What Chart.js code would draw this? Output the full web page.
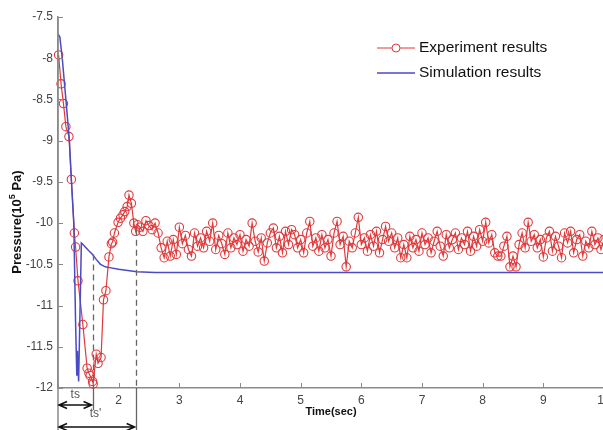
<!DOCTYPE html>
<html>
<head>
<meta charset="utf-8">
<script src="https://cdn.jsdelivr.net/npm/chart.js@4.4.1/dist/chart.umd.min.js"></script>
<style>
html,body{margin:0;padding:0;overflow:hidden;background:#fff;}
#wrap{width:620px;height:430px;position:relative;}
</style>
</head>
<body>
<div id="wrap"><canvas id="c" width="620" height="430"></canvas></div>
<script>
// ---- data ----
const xTicks = [1,2,3,4,5,6,7,8,9,10];
const yTicks = [-12,-11.5,-11,-10.5,-10,-9.5,-9,-8.5,-8,-7.5];

const expTime = [
 1.01,1.05,1.09,1.13,1.18,1.22,1.27,1.29,1.33,1.41,
 1.48,1.51,1.53,1.57,1.58,1.63,1.66,1.71,1.75,1.79,
 1.84,1.88,1.90,1.93,1.99,2.03,2.07,2.10,2.14,2.17,
 2.21,2.25,2.28,2.31,
 2.35,2.40,2.45,2.50,2.55,2.60,2.65,2.70,2.75,2.80,
 2.85,2.90,2.95,3.00,3.05,3.10,3.15,3.20,3.25,3.30,
 3.35,3.40,3.45,3.50,3.55,3.60,3.65,3.70,3.75,3.80,
 3.85,3.90,3.95,4.00,4.05,4.10,4.15,4.20,4.25,4.30,
 4.35,4.40,4.45,4.50,4.55,4.60,4.65,4.70,4.75,4.80,
 4.85,4.90,4.95,5.00,5.05,5.10,5.15,5.20,5.25,5.30,
 5.35,5.40,5.45,5.50,5.55,5.60,5.65,5.70,5.75,5.80,
 5.85,5.90,5.95,6.00,6.05,6.10,6.15,6.20,6.25,6.30,
 6.35,6.40,6.45,6.50,6.55,6.60,6.65,6.70,6.75,6.80,
 6.85,6.90,6.95,7.00,7.05,7.10,7.15,7.20,7.25,7.30,
 7.35,7.40,7.45,7.50,7.55,7.60,7.65,7.70,7.75,7.80,
 7.85,7.90,7.95,8.00,8.05,8.10,8.15,8.20,8.25,8.30,
 8.35,8.40,8.45,8.50,8.55,8.60,8.65,8.70,8.75,8.80,
 8.85,8.90,8.95,9.00,9.05,9.10,9.15,9.20,9.25,9.30,
 9.35,9.40,9.45,9.50,9.55,9.60,9.65,9.70,9.75,9.80,
 9.85,9.90,9.95,10.00
];
const expPressure = [
 -7.96,-8.31,-8.55,-8.83,-8.95,-9.47,-10.12,-10.29,-10.70,-11.23,
 -11.76,-11.82,-11.85,-11.92,-11.95,-11.59,-11.70,-11.63,-10.93,-10.82,
 -10.41,-10.25,-10.23,-10.12,-9.99,-9.94,-9.90,-9.86,-9.80,-9.66,
 -9.76,-10.00,-10.10,-10.02,
 -10.05,-10.10,-9.97,-10.03,-10.08,-10.00,-10.12,-10.30,-10.42,-10.22,
 -10.40,-10.20,-10.38,-10.05,-10.25,-10.15,-10.32,-10.40,-10.12,-10.28,
 -10.18,-10.30,-10.10,-10.22,-10.00,-10.32,-10.15,-10.25,-10.38,-10.12,
 -10.30,-10.18,-10.26,-10.14,-10.34,-10.20,-10.28,-10.00,-10.22,-10.35,
 -10.18,-10.46,-10.24,-10.12,-10.06,-10.30,-10.16,-10.36,-10.10,-10.26,
 -10.08,-10.14,-10.30,-10.20,-10.36,-10.12,-9.98,-10.28,-10.18,-10.34,
 -10.14,-10.30,-10.20,-10.40,-10.12,-9.98,-10.26,-10.16,-10.53,-10.22,
 -10.30,-10.12,-9.93,-10.26,-10.18,-10.34,-10.14,-10.28,-10.10,-10.36,
 -10.20,-10.04,-10.22,-10.12,-10.30,-10.18,-10.42,-10.26,-10.42,-10.16,
 -10.30,-10.20,-10.34,-10.12,-10.26,-10.18,-10.36,-10.22,-10.10,-10.28,
 -10.40,-10.14,-10.30,-10.20,-10.12,-10.32,-10.18,-10.26,-10.10,-10.34,
 -10.16,-10.28,-10.08,-10.22,-9.99,-10.24,-10.14,-10.36,-10.40,-10.40,
 -10.28,-10.16,-10.53,-10.40,-10.53,-10.26,-10.12,-10.30,-9.99,-10.22,
 -10.14,-10.30,-10.20,-10.41,-10.18,-10.10,-10.34,-10.16,-10.28,-10.42,
 -10.12,-10.24,-10.10,-10.36,-10.20,-10.14,-10.40,-10.22,-10.30,-10.10,
 -10.26,-10.18,-10.32,-10.20
];

const simTime = [1.00,1.03,1.07,1.13,1.19,1.22,1.26,1.29,1.31,1.32,1.34,1.385,1.40,1.45,1.50,1.57,1.63,1.70,1.78,1.85,2.00,2.30,2.60,10.00];
const simPressure = [-7.71,-7.74,-8.00,-8.50,-9.02,-9.47,-10.00,-11.21,-11.85,-11.55,-11.92,-10.24,-10.25,-10.29,-10.33,-10.38,-10.44,-10.50,-10.53,-10.54,-10.56,-10.59,-10.60,-10.60];

const seriesNames = ['Experiment results','Simulation results'];
// settling-time annotations: [time, pressure where dashed line starts]
const tsTimes = [1.57, 2.28];
const tsTop = [-10.38, -10.08];
const tsLabels = ['ts', "ts'"];

const RED = '#e0393b';
const BLUE = '#4a4ac6';
const AXIS = '#8a8a8a';
const FONT = '"Liberation Sans", Arial, sans-serif';

const expData = expTime.map((t,i)=>({x:t,y:expPressure[i]}));
const simData = simTime.map((t,i)=>({x:t,y:simPressure[i]}));

const decor = {
  id:'decor',
  afterDraw(chart){
    const {ctx, chartArea:ca, scales:{x,y}} = chart;
    ctx.save();
    // axis extension below and inward ticks
    ctx.strokeStyle = AXIS; ctx.lineWidth = 1.5;
    ctx.beginPath(); ctx.moveTo(ca.left, ca.top); ctx.lineTo(ca.left, 430); ctx.stroke();
    ctx.lineWidth = 1;
    xTicks.forEach(v=>{const px=Math.round(x.getPixelForValue(v))+0.5; ctx.beginPath(); ctx.moveTo(px,ca.bottom); ctx.lineTo(px,ca.bottom-5); ctx.stroke();});
    yTicks.forEach(v=>{const py=Math.round(y.getPixelForValue(v))+0.5; ctx.beginPath(); ctx.moveTo(ca.left,py); ctx.lineTo(ca.left+5,py); ctx.stroke();});

    // dashed ts lines
    ctx.strokeStyle = '#666'; ctx.lineWidth = 1.3;
    const bottoms = [410, 430];
    tsTimes.forEach((t,i)=>{
      const px = Math.round(x.getPixelForValue(t))+0.5;
      ctx.setLineDash([6,4]);
      ctx.beginPath(); ctx.moveTo(px, y.getPixelForValue(tsTop[i])); ctx.lineTo(px, ca.bottom); ctx.stroke();
      ctx.setLineDash([]);
      ctx.beginPath(); ctx.moveTo(px, ca.bottom); ctx.lineTo(px, bottoms[i]); ctx.stroke();
    });
    // arrows
    ctx.strokeStyle = '#111'; ctx.lineWidth = 1.5;
    const arrowY = [405, 427];
    tsTimes.forEach((t,i)=>{
      const x0 = ca.left+1, x1 = x.getPixelForValue(t)-1, yy = arrowY[i];
      ctx.beginPath(); ctx.moveTo(x0,yy); ctx.lineTo(x1,yy);
      ctx.moveTo(x0+8,yy-3.5); ctx.lineTo(x0,yy); ctx.lineTo(x0+8,yy+3.5);
      ctx.moveTo(x1-8,yy-3.5); ctx.lineTo(x1,yy); ctx.lineTo(x1-8,yy+3.5);
      ctx.stroke();
    });
    ctx.fillStyle = '#555'; ctx.font = '12px '+FONT; ctx.textAlign='center'; ctx.textBaseline='middle';
    ctx.fillText(tsLabels[0], (ca.left + x.getPixelForValue(tsTimes[0]))/2, 395);
    ctx.fillText(tsLabels[1], x.getPixelForValue(tsTimes[0])+3, 414);

    // y title with superscript
    ctx.save();
    ctx.translate(17, 222); ctx.rotate(-Math.PI/2);
    ctx.fillStyle = '#111'; ctx.textAlign='left'; ctx.textBaseline='middle';
    const f1 = 'bold 13px '+FONT, f2 = 'bold 9px '+FONT;
    const p1 = 'Pressure(10', p2 = '5', p3 = ' Pa)';
    ctx.font=f1; const w1=ctx.measureText(p1).width, w3=ctx.measureText(p3).width;
    ctx.font=f2; const w2=ctx.measureText(p2).width;
    let sx = -(w1+w2+w3)/2;
    ctx.font=f1; ctx.fillText(p1, sx, 0); sx+=w1;
    ctx.font=f2; ctx.fillText(p2, sx, -4.5); sx+=w2;
    ctx.font=f1; ctx.fillText(p3, sx, 0);
    ctx.restore();

    // legend
    ctx.font = '15.5px '+FONT; ctx.textAlign='left'; ctx.textBaseline='middle'; ctx.fillStyle='#111';
    const lx0 = 377, lx1 = 415, ly = [48, 73];
    ctx.lineWidth = 1; ctx.strokeStyle = RED;
    ctx.beginPath(); ctx.moveTo(lx0,ly[0]); ctx.lineTo(lx1,ly[0]); ctx.stroke();
    ctx.beginPath(); ctx.arc(396, ly[0], 4, 0, Math.PI*2); ctx.fillStyle='#fff'; ctx.fill(); ctx.stroke();
    ctx.lineWidth = 1.5; ctx.strokeStyle = BLUE;
    ctx.beginPath(); ctx.moveTo(lx0,ly[1]); ctx.lineTo(lx1,ly[1]); ctx.stroke();
    ctx.fillStyle='#111';
    ctx.fillText(seriesNames[0], 419, ly[0]);
    ctx.fillText(seriesNames[1], 419, ly[1]);
    ctx.restore();
  }
};

new Chart(document.getElementById('c'), {
  type:'line',
  data:{datasets:[
    {label:seriesNames[0], data:expData, borderColor:RED, borderWidth:1.2, pointRadius:4.2, pointBorderWidth:1.1,
     pointBorderColor:RED, pointBackgroundColor:'rgba(0,0,0,0)', pointStyle:'circle', tension:0, clip:false, order:2},
    {label:seriesNames[1], data:simData, borderColor:BLUE, borderWidth:1.5, pointRadius:0, tension:0, clip:false, order:1}
  ]},
  options:{
    responsive:false, animation:false, devicePixelRatio:1,
    layout:{padding:{top:17,right:16,left:0,bottom:0}},
    plugins:{legend:{display:false}, tooltip:{enabled:false}},
    scales:{
      x:{type:'linear', min:1, max:10,
        afterBuildTicks(s){ s.ticks = xTicks.map(v=>({value:v})); },
        afterFit(s){ s.height = 42; },
        grid:{display:false, drawTicks:false},
        border:{display:true, color:AXIS, width:1.5},
        ticks:{padding:5, color:'#444', font:{family:FONT, size:12}, maxRotation:0, autoSkip:false,
          callback:(v)=> v===1 ? '' : String(v)},
        title:{display:true, text:'Time(sec)', color:'#111', font:{family:FONT, size:11, weight:'bold'}, padding:{top:0,bottom:11}}
      },
      y:{type:'linear', min:-12, max:-7.5,
        afterBuildTicks(s){ s.ticks = yTicks.map(v=>({value:v})); },
        afterFit(s){ s.width = 58; },
        grid:{display:false, drawTicks:false},
        border:{display:true, color:AXIS, width:1.5},
        ticks:{padding:5, color:'#444', font:{family:FONT, size:12}, autoSkip:false,
          callback:(v)=> String(v)}
      }
    }
  },
  plugins:[decor]
});
</script>
</body>
</html>
